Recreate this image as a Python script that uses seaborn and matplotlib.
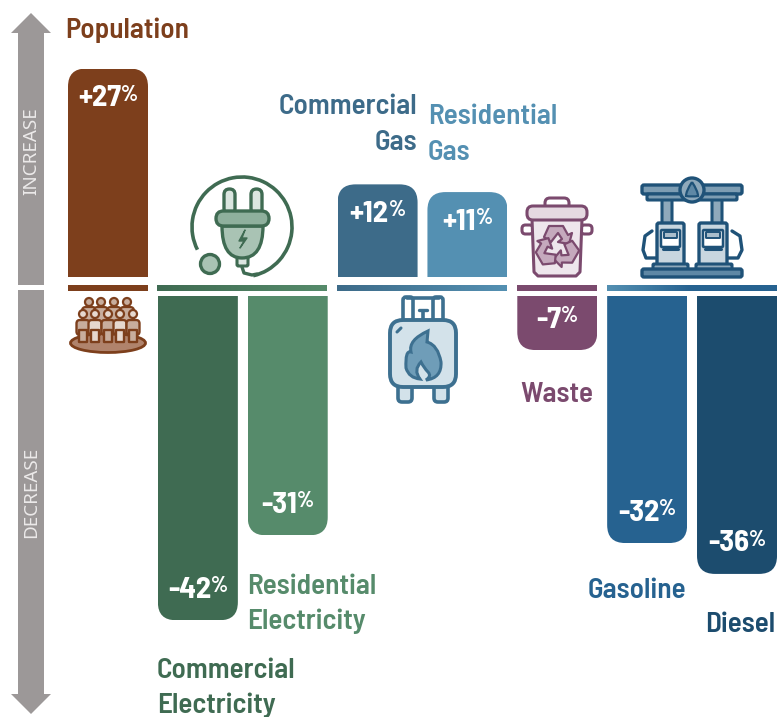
import numpy as np
import pandas as pd
import matplotlib
matplotlib.use("Agg")
import matplotlib.pyplot as plt
import seaborn as sns
from matplotlib.patches import Arc, Circle, Ellipse, FancyBboxPatch, PathPatch, Polygon
from matplotlib.path import Path
from matplotlib.colors import LinearSegmentedColormap
from matplotlib.transforms import Affine2D

categories = ["Population", "Commercial Electricity", "Residential Electricity", "Commercial Gas",
              "Residential Gas", "Waste", "Gasoline", "Diesel"]
changes = [27, -42, -31, 12, 11, -7, -32, -36]
colors = ["#7d3f1c", "#3f6b52", "#568b6b", "#3d6b89", "#5490b2", "#7b4a6e", "#266290", "#1c4c6e"]

W, H = 777, 717
PX_PER_PCT = 7.72
PITCH = 89.86
BAR_W = 80
R = 18

sns.set_theme(style="white")
LABEL_FONT = ["Barlow Semi Condensed", "Roboto Condensed", "Noto Sans", "DejaVu Sans"]
VALUE_FONT = ["Barlow Condensed", "Roboto Condensed", "Noto Sans", "DejaVu Sans"]
plt.rcParams["font.family"] = LABEL_FONT
df = pd.DataFrame({"category": categories, "change": changes})
palette = dict(zip(categories, colors))

fig = plt.figure(figsize=(W / 100, H / 100), dpi=100, facecolor="white")
top = fig.add_axes([0, 1 - 277 / H, 1, 277 / H])
bot = fig.add_axes([0, 0, 1, (H - 296) / H])
ovl = fig.add_axes([0, 0, 1, 1], zorder=5)
ovl.set_xlim(0, W)
ovl.set_ylim(H, 0)
ovl.axis("off")
ovl.patch.set_alpha(0)
ovl.set_autoscale_on(False)


def bars(ax, data):
    sns.barplot(data=data, x="category", y="change", hue="category", order=categories, hue_order=categories,
                palette=palette, width=BAR_W / PITCH, saturation=1, legend=False, ax=ax, dodge=False)
    ax.set_xlim(-108 / PITCH, (W - 108) / PITCH)
    ax.axis("off")


bars(top, df[df.change > 0])
bars(bot, df[df.change < 0])
top.set_ylim(0, 277 / PX_PER_PCT)
bot.set_ylim(-(H - 296) / PX_PER_PCT, 0)


def round_end(ax, bar):
    """Clip a bar so that its outer end has rounded corners."""
    if bar.get_height() == 0 or np.isnan(bar.get_height()):
        return
    bar.set_edgecolor("none")
    bar.set_linewidth(0)
    x0, w, h = bar.get_x(), bar.get_width(), bar.get_height()
    rx, ry = R / PITCH, R / PX_PER_PCT
    s = np.sign(h)
    verts = [(x0, 0), (x0, h - s * ry), (x0, h), (x0 + rx, h), (x0 + w - rx, h), (x0 + w, h),
             (x0 + w, h - s * ry), (x0 + w, 0), (x0, 0)]
    codes = [Path.MOVETO, Path.LINETO, Path.CURVE3, Path.CURVE3, Path.LINETO, Path.CURVE3, Path.CURVE3,
             Path.LINETO, Path.CLOSEPOLY]
    bar.set_clip_path(Path(verts, codes), ax.transData)


for ax in (top, bot):
    for b in ax.patches:
        round_end(ax, b)

# ---- value labels: number with a smaller raised percent sign
fig.canvas.draw()
rend = fig.canvas.get_renderer()
NUM = 22
PCT = 16
for i, v in enumerate(changes):
    ax = top if v > 0 else bot
    inset = -30 if v > 0 else 30
    num = f"{v:+d}"
    t1 = ax.annotate(num, (i, v), xytext=(0, inset), textcoords="offset pixels", ha="left", va="center",
                     color="white", fontsize=NUM, fontweight="bold", family=LABEL_FONT, zorder=6,
                     annotation_clip=False)
    t2 = ax.annotate("%", (i, v), xytext=(0, inset + 4), textcoords="offset pixels", ha="left", va="center",
                     color="white", fontsize=PCT, fontweight="bold", family=VALUE_FONT, zorder=6,
                     annotation_clip=False)
    w1 = t1.get_window_extent(rend).width
    w2 = t2.get_window_extent(rend).width
    t1.xyann = (-(w1 + w2) / 2, inset)
    t2.xyann = (-(w1 + w2) / 2 + w1, inset + 4)

# ---- series labels
LAB = 21
labels = [("Population", 65, 30, "left", 0), ("Commercial", 417, 107, "right", 3), ("Gas", 417, 143, "right", 3),
          ("Residential", 428, 117, "left", 4), ("Gas", 428, 153, "left", 4), ("Waste", 557, 395, "center", 5),
          ("Residential", 247, 586, "left", 2), ("Electricity", 247, 621, "left", 2),
          ("Commercial", 157, 670, "left", 1), ("Electricity", 157, 705, "left", 1),
          ("Gasoline", 588, 590, "left", 6), ("Diesel", 705, 624, "left", 7)]
for s, x, y, ha, c in labels:
    ovl.text(x, y, s, ha=ha, va="center", fontsize=LAB, fontweight=600, color=colors[c])

# ---- arrow
GREY = "#9c9898"
ovl.add_patch(Polygon([(31, 13), (51, 33), (44, 33), (44, 285), (18, 285), (18, 33), (11, 33)], fc=GREY, ec="none"))
ovl.add_patch(Polygon([(31, 714), (51, 694), (44, 694), (44, 290), (18, 290), (18, 694), (11, 694)], fc=GREY, ec="none"))
ovl.text(31, 151, "INCREASE", rotation=90, ha="center", va="center", fontsize=13.5, color="#eceaea",
         family=["Noto Sans", "DejaVu Sans"], fontweight=600)
ovl.text(31, 492, "DECREASE", rotation=90, ha="center", va="center", fontsize=13.5, color="#eceaea",
         family=["Noto Sans", "DejaVu Sans"], fontweight=600)


# ---- separator strips
def strip(x0, x1, c0, c1=None, c2=None):
    cols = [c for c in (c0, c1, c2) if c]
    if len(cols) == 1:
        cols = cols * 2
    cm = LinearSegmentedColormap.from_list("s", cols)
    ovl.imshow(np.linspace(0, 1, 256)[None, :], extent=(x0, x1, 291, 285), cmap=cm, aspect="auto", zorder=1)


strip(68, 148, colors[0])
strip(157, 327, colors[1], colors[2])
strip(337, 507, colors[3], colors[4])
strip(517, 597, colors[5])
strip(607, 777, colors[4], colors[6], colors[6])
ovl.set_xlim(0, W)
ovl.set_ylim(H, 0)


# ---- icon helpers
def rr(x0, y0, x1, y1, r, fc, ec, lw=2.2, z=3):
    ovl.add_patch(FancyBboxPatch((x0 + r, y0 + r), x1 - x0 - 2 * r, y1 - y0 - 2 * r,
                                 boxstyle=f"round,pad={r},rounding_size={r}", fc=fc, ec=ec, lw=lw, zorder=z))


def poly(pts, fc, ec, lw=2.2, z=3, closed=True):
    ovl.add_patch(Polygon(pts, closed=closed, fc=fc, ec=ec, lw=lw, zorder=z, joinstyle="round"))


def line(pts, ec, lw=2.2, z=4):
    a = np.array(pts)
    ovl.plot(a[:, 0], a[:, 1], color=ec, lw=lw, solid_capstyle="round", zorder=z)


# people
BR = "#7d3f1c"
ovl.add_patch(Ellipse((108, 343), 75, 19, fc="#b0836c", ec=BR, lw=2, zorder=3))
for x in [89, 101, 114, 127]:
    rr(x - 7, 307, x + 7, 322, 4, "#c8ad9d", BR, 1.6, 3)
    ovl.add_patch(Circle((x, 302), 4, fc="#c8ad9d", ec=BR, lw=1.6, zorder=4))
for i, x in enumerate([83, 95, 108, 120, 133]):
    fc = "#e6d8cf" if i % 2 else "#c8ad9d"
    rr(x - 6.5, 320, x + 6.5, 335, 3.5, fc, BR, 1.7, 5)
    poly([(x - 4, 330), (x + 4, 330), (x + 4, 342), (x - 4, 342)], fc, BR, 1.7, 5)
    ovl.add_patch(Circle((x, 314), 4, fc="#e6d8cf", ec=BR, lw=1.6, zorder=6))

# plug
G = "#3f6b52"
ovl.add_patch(Arc((242, 227), 100, 100, theta1=153, theta2=437, ec=G, lw=2.6, zorder=3))
ovl.add_patch(Circle((210, 264), 9.5, fc="#a9c3b4", ec=G, lw=2.4, zorder=4))
line([(242, 267), (244, 273), (252, 275), (257, 274)], G, 2.4)
rr(224, 189, 235, 214, 5.5, "#dbe6e0", G, 2.4)
rr(251, 189, 262, 214, 5.5, "#dbe6e0", G, 2.4)
rr(237, 257, 248, 266, 1.5, "#dbe6e0", G, 2.2)
ovl.add_patch(PathPatch(Path([(222, 226), (222, 258), (242, 258), (263, 258), (263, 226), (222, 226)],
                             [Path.MOVETO, Path.CURVE3, Path.CURVE3, Path.CURVE3, Path.CURVE3, Path.CLOSEPOLY]),
                        fc="#a9c3b4", ec=G, lw=2.4, zorder=4))
rr(216, 211, 269, 226, 7.5, "#8fb09d", G, 2.4, 5)
poly([(245, 230), (239, 241), (244, 241), (240, 248), (247, 238), (242, 238)], G, G, 1, 6)

# gas tank
B = "#3d7090"
rr(403, 297, 413, 322, 3, "white", B, 2.6)
rr(433, 297, 443, 322, 3, "white", B, 2.6)
line([(407, 298), (439, 298)], B, 2.6)
line([(423, 312), (423, 319)], B, 2.6)
line([(419, 310), (427, 310)], B, 2.4)
rr(398, 380, 412, 402, 4, "#d3e2ea", B, 2.6, 3)
rr(434, 380, 448, 402, 4, "#d3e2ea", B, 2.6, 3)
rr(390, 320, 456, 387, 13, "#d3e2ea", B, 2.8, 4)
line([(397, 332), (401, 328)], B, 2.2, 5)
flame = [(428, 331), (408, 340), (411, 352), (405, 350), (406, 368), (409, 378), (420, 379), (413, 370),
         (421, 362), (424, 368), (428, 372), (432, 376), (426, 380), (442, 378), (441, 362), (438, 345), (427, 342),
         (428, 331)]
codes = [Path.MOVETO] + [Path.CURVE3] * 16 + [Path.CLOSEPOLY]
ovl.add_patch(PathPatch(Path(flame, codes), fc="#6f9db8", ec=B, lw=2.2, zorder=5))

# recycling bin
P = "#7b4a6e"
rr(545, 198, 569, 210, 5, "white", P, 2.2, 2)
rr(522, 225, 533, 234, 3.5, "white", P, 2.2, 2)
rr(581, 225, 592, 234, 3.5, "white", P, 2.2, 2)
poly([(532, 219), (582, 219), (580, 272), (576, 276), (538, 276), (534, 272)], "#eee6ec", P, 2.2, 3)
rr(527, 206, 587, 220, 6, "#e5d9e1", P, 2.2, 4)
arrow = np.array([(-8, -21), (6, -21), (11, -12), (15, -14), (12, -3), (1, -5), (5, -8), (1, -14), (-6, -5), (-13, -10)])
for a in (0, 120, 240):
    pts = Affine2D().rotate_deg(a).translate(557, 247).transform(arrow * 1.0)
    poly(pts, "#c5a9bd", P, 1.6, 5)

# fuel station
F = "#1f5278"
FL = "#c8d6df"
for x in (662, 712):
    rr(x, 198, x + 10, 225, 0.5, "#8fa9bb", F, 2.2, 2)
rr(642, 185, 742, 194, 2, "#7d9db3", F, 2.4, 3)
rr(647, 194, 737, 200, 1, "#7d9db3", F, 2.2, 3)
ovl.add_patch(Circle((692, 190), 12, fc="#8fa9bb", ec=F, lw=2.4, zorder=4))
ovl.add_patch(PathPatch(Path([(692, 182), (686, 191), (686, 196), (692, 197), (698, 196), (698, 191), (692, 182)],
                             [Path.MOVETO] + [Path.CURVE3] * 5 + [Path.CLOSEPOLY]), fc="#5f88a5", ec=F, lw=1.6, zorder=5))
for x0, x1 in ((657, 684), (699, 727)):
    rr(x0, 223, x1, 266, 2, FL, F, 2.4, 3)
    rr(x0 + 4, 230, x1 - 4, 247, 1, "white", F, 1.8, 4)
    rr(x0 + 7, 232, x1 - 7, 238, 0.5, "#a9bdcb", F, 1.4, 5)
    line([(x0 + 6, 249), (x1 - 6, 249)], F, 2.2, 5)
for x0, x1 in ((653, 688), (696, 732)):
    rr(x0, 264, x1, 270, 1, "#8fa9bb", F, 2.2, 4)
rr(642, 269, 742, 277, 2, "#5f88a5", F, 2.4, 5)
line([(652, 231), (645, 236), (643, 250), (646, 258), (657, 258)], F, 2.4, 2)
line([(732, 231), (740, 236), (742, 250), (738, 258), (727, 258)], F, 2.4, 2)

fig.savefig("out.png", dpi=100, facecolor="white")
